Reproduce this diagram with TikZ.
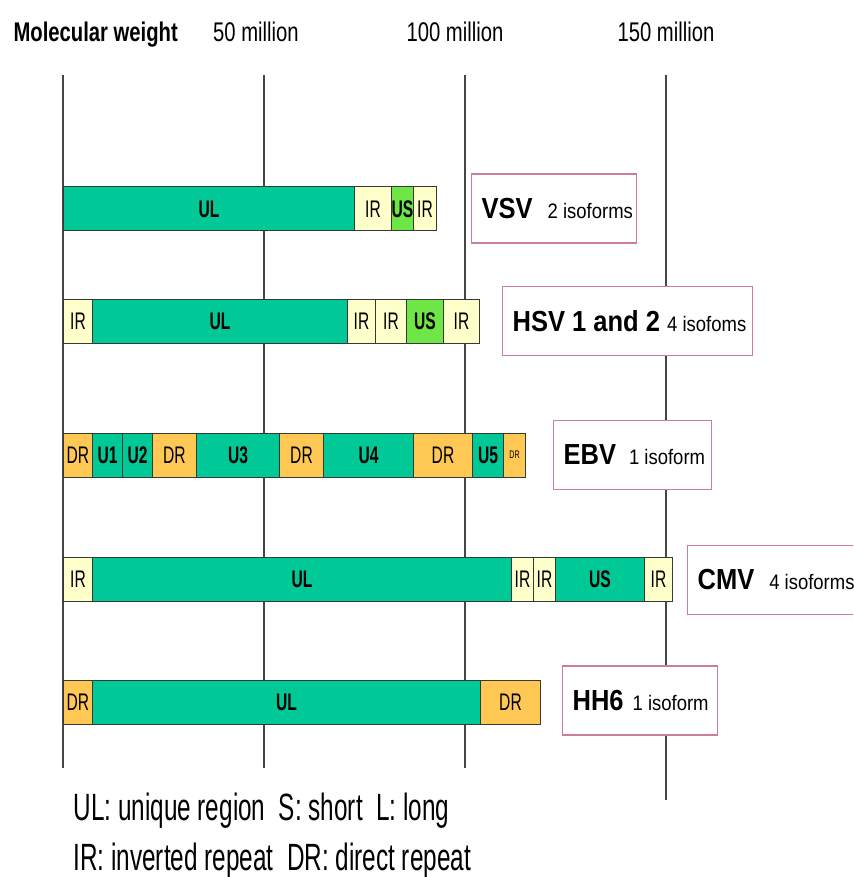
\documentclass[tikz,border=0pt]{standalone}
\usepackage{fontspec}
\setmainfont{Liberation Sans}
\newfontfamily\headfont[FakeStretch=0.75]{Liberation Sans}
\newfontfamily\segfont[FakeStretch=0.65]{Liberation Sans}
\newfontfamily\namefont[FakeStretch=0.88]{Liberation Sans}
\newfontfamily\keyfont[FakeStretch=0.64]{Liberation Sans}

\definecolor{ulgreen}{RGB}{0,200,150}
\definecolor{iryellow}{RGB}{255,255,204}
\definecolor{usgreen}{RGB}{110,230,70}
\definecolor{drorange}{RGB}{255,200,85}
\definecolor{boxpink}{RGB}{205,125,155}
\definecolor{barline}{RGB}{50,60,50}
\definecolor{gridline}{RGB}{70,70,70}

\newcommand{\virusname}{\namefont\bfseries\fontsize{29}{29}\selectfont}
\newcommand{\isoformtext}{\namefont\mdseries\fontsize{21}{21}\selectfont}

\tikzset{
  seg/.style={draw=barline, line width=1pt, anchor=west, minimum height=44pt,
    inner sep=0pt, text=black, font=\segfont\fontsize{24}{24}\selectfont},
  ulseg/.style={seg, fill=ulgreen, font=\segfont\bfseries\fontsize{24}{24}\selectfont},
  usseg/.style={seg, fill=usgreen, font=\segfont\bfseries\fontsize{24}{24}\selectfont},
  cmvus/.style={ulseg},
  irseg/.style={seg, fill=iryellow},
  drseg/.style={seg, fill=drorange},
  drsmall/.style={seg, fill=drorange, font=\segfont\fontsize{11}{11}\selectfont},
  namebox/.style={draw=boxpink, fill=white, line width=1.2pt, anchor=west,
    minimum height=69pt, inner xsep=10pt, inner ysep=0pt},
  grid/.style={draw=gridline, line width=1.2pt}
}

\begin{document}
\begin{tikzpicture}[x=1pt, y=-1pt]
  \useasboundingbox (0,0) rectangle (853,877);
  \clip (0,0) rectangle (853,877);

  % weight scale
  \node[anchor=base west, font=\headfont\bfseries\fontsize{27}{27}\selectfont] (mw) at (10,42) {Molecular weight};
  \node[anchor=base, font=\headfont\fontsize{27}{27}\selectfont] (m50) at (256,42) {50 million};
  \node[anchor=base, font=\headfont\fontsize{27}{27}\selectfont] (m100) at (455,42) {100 million};
  \node[anchor=base, font=\headfont\fontsize{27}{27}\selectfont] (m150) at (666,42) {150 million};

  \coordinate (g0) at (63,75);
  \coordinate (g1) at (264,75);
  \coordinate (g2) at (465,75);
  \coordinate (g3) at (666,75);
  \draw[grid] (g0) -- ++(0,693);
  \draw[grid] (g1) -- ++(0,693);
  \draw[grid] (g2) -- ++(0,693);
  \draw[grid] (g3) -- ++(0,725);

  % VSV
  \foreach \sty/\xa/\xb/\txt [count=\i] in {ulseg/63/354/UL, irseg/354/391/IR, usseg/391/413/US, irseg/413/436/IR}
    \node[\sty, minimum width={(\xb-\xa)*1pt}] (vsv\i) at (\xa,209) {\txt};
  \node[namebox] (vsvbox) at (471,208.5)
    {\makebox[145pt][l]{\virusname VSV\hspace{15pt}\isoformtext 2 isoforms}};

  % HSV
  \foreach \sty/\xa/\xb/\txt [count=\i] in {irseg/63/92/IR, ulseg/92/347/UL, irseg/347/375/IR, irseg/375/406/IR, usseg/406/443/US, irseg/443/479/IR}
    \node[\sty, minimum width={(\xb-\xa)*1pt}] (hsv\i) at (\xa,321) {\txt};
  \node[namebox] (hsvbox) at (502,321)
    {\makebox[230pt][l]{\virusname HSV 1 and 2 \isoformtext 4 isofoms}};

  % EBV
  \foreach \sty/\xa/\xb/\txt [count=\i] in {drseg/63/92/DR, ulseg/92/122/U1, ulseg/122/152/U2, drseg/152/196/DR, ulseg/196/279/U3, drseg/279/323/DR, ulseg/323/413/U4, drseg/413/472/DR, ulseg/472/503/U5, drsmall/503/525/DR}
    \node[\sty, minimum width={(\xb-\xa)*1pt}] (ebv\i) at (\xa,455) {\txt};
  \node[namebox] (ebvbox) at (553,455)
    {\makebox[138pt][l]{\virusname EBV\hspace{13pt}\isoformtext 1 isoform}};

  % CMV
  \foreach \sty/\xa/\xb/\txt [count=\i] in {irseg/63/92/IR, ulseg/92/511/UL, irseg/511/533/IR, irseg/533/555/IR, cmvus/555/644/US, irseg/644/672/IR}
    \node[\sty, minimum width={(\xb-\xa)*1pt}] (cmv\i) at (\xa,579.5) {\txt};
  \node[namebox] (cmvbox) at (687,580)
    {\makebox[155pt][l]{\virusname CMV\hspace{15pt}\isoformtext 4 isoforms}};

  % HH6
  \foreach \sty/\xa/\xb/\txt [count=\i] in {drseg/63/92/DR, ulseg/92/480/UL, drseg/480/540/DR}
    \node[\sty, minimum width={(\xb-\xa)*1pt}] (hh\i) at (\xa,702.5) {\txt};
  \node[namebox] (hhbox) at (562,700.5)
    {\makebox[135pt][l]{\virusname HH6\hspace{9pt}\isoformtext 1 isoform}};

  % legend
  \node[anchor=base west, font=\keyfont\fontsize{38}{38}\selectfont] (key1) at (70,820)
    {UL: unique region\ \ S: short\ \ L: long};
  \node[anchor=base west, font=\keyfont\fontsize{38}{38}\selectfont] (key2) at (70,870)
    {IR: inverted repeat\ \ DR: direct repeat};
\end{tikzpicture}
\end{document}
